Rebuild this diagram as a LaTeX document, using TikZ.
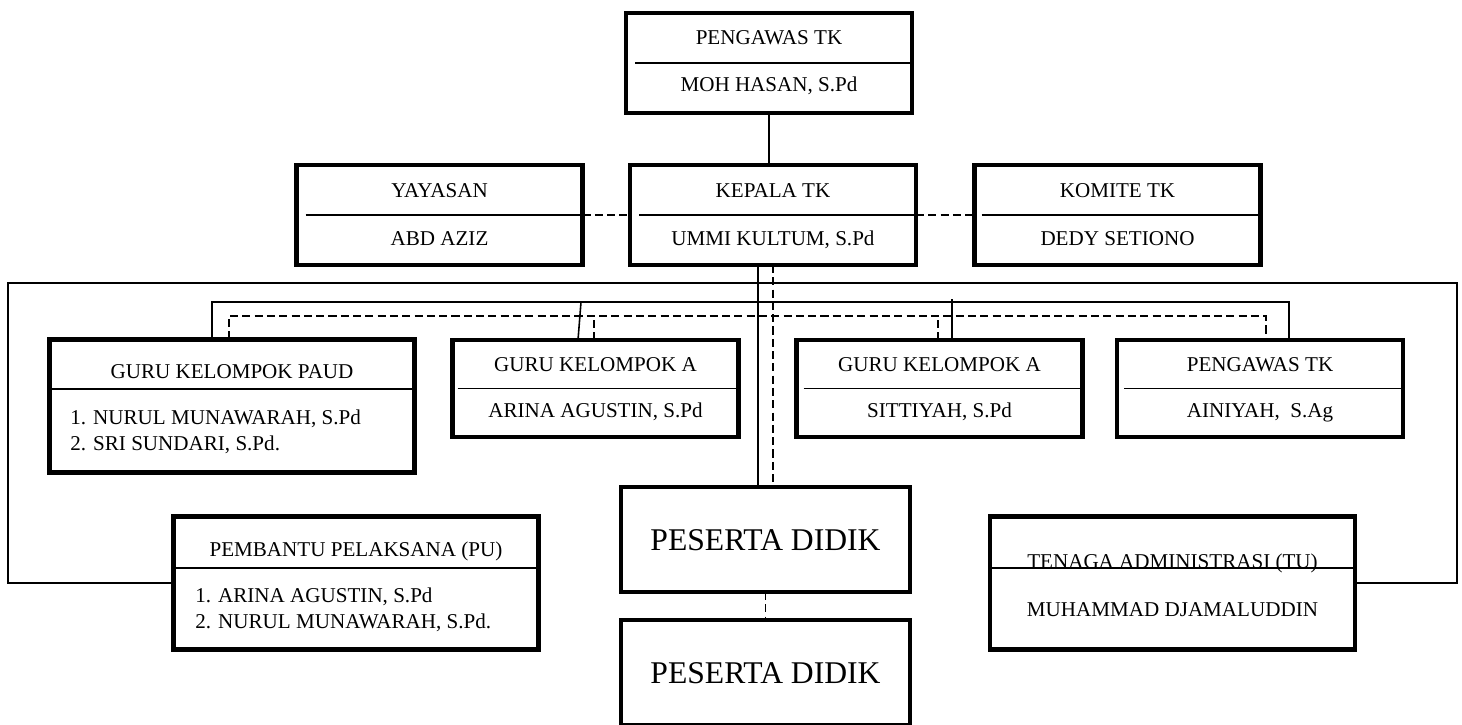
\documentclass[tikz,border=0pt]{standalone}
\usepackage{fontspec}
\setmainfont{Liberation Serif}
\usetikzlibrary{positioning}
\usetikzlibrary{calc}

\begin{document}
\begin{tikzpicture}
		[
			x = 0.02cm, y = -0.02cm,
			box/.style = {rectangle, draw = black, line width = 2.6pt, inner sep = 0cm, outer sep = 0cm},
			topbox/.style = {box, minimum width = 5.72cm, minimum height = 2cm},
			midbox/.style = {box, minimum width = 5.72cm, minimum height = 1.94cm},
			widebox/.style = {box, minimum width = 7.3cm, minimum height = 2.66cm},
			pesertabox/.style = {box, minimum width = 5.78cm, minimum height = 2.1cm},
			divider/.style = {line width = 1pt},
			link/.style = {line width = 0.9pt},
			linkdash/.style = {line width = 0.9pt, dash pattern = on 4.6pt off 2.4pt},
			headtext/.style = {inner sep = 0cm, anchor = base, font = \fontsize{12}{14}\selectfont},
			listtext/.style = {headtext, anchor = base west},
			bigtext/.style = {inner sep = 0cm, anchor = base, font = \fontsize{18}{21}\selectfont},
		]
			\useasboundingbox (0,0) rectangle (1462,724);
			%
			\node (pengawasA) [topbox] at (769,63) {};
			\node (yayasan) [topbox] at (439.5,215) {};
			\node (kepala) [topbox] at (773,215) {};
			\node (komite) [topbox] at (1117.5,215) {};
			%
			\node (paud) [widebox] at (232,406) {};
			\node (guruA) [midbox] at (595.5,388.5) {};
			\node (guruB) [midbox] at (939.5,388.5) {};
			\node (pengawasB) [midbox] at (1260,388.5) {};
			%
			\node (pembantu) [widebox] at (356,583) {};
			\node (tenaga) [widebox] at (1172.5,583) {};
			\node (pesertaA) [pesertabox] at (765.5,539.5) {};
			\node (pesertaB) [pesertabox] at (765.5,672.5) {};
			%
			\draw [divider] ([xshift = 0.18cm] pengawasA.west) -- (pengawasA.east);
			\draw [divider] ([xshift = 0.18cm] yayasan.west) -- (yayasan.east);
			\draw [divider] ([xshift = 0.18cm] kepala.west) -- (kepala.east);
			\draw [divider] ([xshift = 0.14cm] komite.west) -- (komite.east);
			\draw [divider] (paud.west |- 0,389) -- (paud.east |- 0,389);
			\draw [divider] ([xshift = 0.1cm] guruA.west) -- (guruA.east);
			\draw [divider] ([xshift = 0.14cm] guruB.west) -- (guruB.east);
			\draw [divider] ([xshift = 0.14cm] pengawasB.west) -- (pengawasB.east);
			\draw [divider] (pembantu.west |- 0,568) -- (pembantu.east |- 0,568);
			\draw [divider] (tenaga.west |- 0,568) -- (tenaga.east |- 0,568);
			%
			\node (pengawasATitle) [headtext] at (769,44) {PENGAWAS TK};
			\node (pengawasAName) [headtext] at (769,91) {MOH HASAN, S.Pd};
			\node (yayasanTitle) [headtext] at (439.5,197) {YAYASAN};
			\node (yayasanName) [headtext] at (439.5,245) {ABD AZIZ};
			\node (kepalaTitle) [headtext] at (773,197) {KEPALA TK};
			\node (kepalaName) [headtext] at (773,245) {UMMI KULTUM, S.Pd};
			\node (komiteTitle) [headtext] at (1117.5,197) {KOMITE TK};
			\node (komiteName) [headtext] at (1117.5,245) {DEDY SETIONO};
			%
			\node (paudTitle) [headtext] at (232,378) {GURU KELOMPOK PAUD};
			\node (paudOne) [listtext] at (70,424) {1. NURUL MUNAWARAH, S.Pd};
			\node (paudTwo) [listtext] at (70,450) {2. SRI SUNDARI, S.Pd.};
			\node (guruATitle) [headtext] at (595.5,371) {GURU KELOMPOK A};
			\node (guruAName) [headtext] at (595.5,417) {ARINA AGUSTIN, S.Pd};
			\node (guruBTitle) [headtext] at (939.5,371) {GURU KELOMPOK A};
			\node (guruBName) [headtext] at (939.5,417) {SITTIYAH, S.Pd};
			\node (pengawasBTitle) [headtext] at (1260,371) {PENGAWAS TK};
			\node (pengawasBName) [headtext] at (1260,417) {AINIYAH, \ S.Ag};
			%
			\node (pembantuTitle) [headtext] at (356,556) {PEMBANTU PELAKSANA (PU)};
			\node (pembantuOne) [listtext] at (195,602) {1. ARINA AGUSTIN, S.Pd};
			\node (pembantuTwo) [listtext] at (195,628) {2. NURUL MUNAWARAH, S.Pd.};
			\node (tenagaTitle) [headtext] at (1172.5,568) {TENAGA ADMINISTRASI (TU)};
			\node (tenagaName) [headtext] at (1172.5,616) {MUHAMMAD DJAMALUDDIN};
			\node (pesertaATitle) [bigtext] at (765.5,550) {PESERTA DIDIK};
			\node (pesertaBTitle) [bigtext] at (765.5,683) {PESERTA DIDIK};
			%
			\coordinate (trunk) at (758,0);
			\coordinate (frameL) at (8,283);
			\coordinate (frameR) at (1457,283);
			\coordinate (busL) at (212,302);
			\coordinate (busR) at (1289,302);
			\coordinate (busA) at (581,302);
			\coordinate (busB) at (952,299);
			\coordinate (dashL) at (229,316);
			\coordinate (dashR) at (1266,316);
			%
			\draw [link] (pengawasA.south) -- (pengawasA.south |- kepala.north);
			\draw [linkdash] (yayasan.east) -- (kepala.west);
			\draw [linkdash] (kepala.east) -- (komite.west);
			\draw [link] (kepala.south -| trunk) -- (pesertaA.north -| trunk);
			\draw [linkdash] (kepala.south) -- (kepala.south |- pesertaA.north);
			\draw [link] (pembantu.west) -| (frameL) -| (frameR) |- (tenaga.east);
			%
			\draw [link] (paud.north -| busL) |- (busR) -- (pengawasB.north -| busR);
			\draw [link] (busA) -- (guruA.north -| 578,0);
			\draw [link] (busB) -- (guruB.north -| busB);
			\draw [linkdash] (paud.north -| dashL) |- (dashR) -- (pengawasB.north -| dashR);
			\draw [linkdash] (guruA.north -| 594,0) -- (594,316);
			\draw [linkdash] (guruB.north -| 938,0) -- (938,316);
			\draw [linkdash] (pesertaA.south) -- (pesertaB.north);
			%
		\end{tikzpicture}
\end{document}
